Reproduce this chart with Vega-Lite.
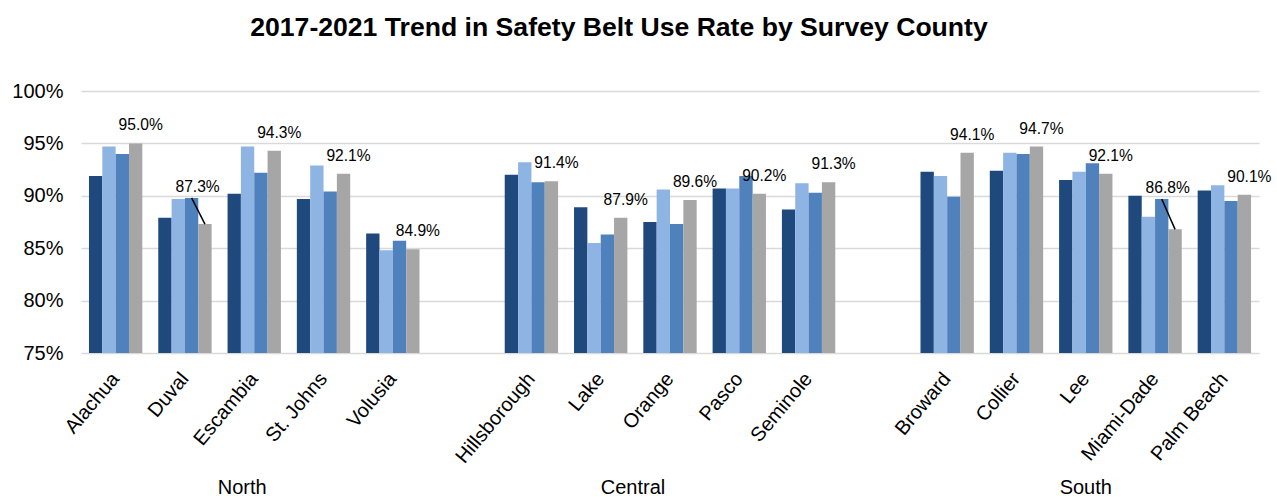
{
  "$schema": "https://vega.github.io/schema/vega-lite/v6.json",
  "width": 1178,
  "height": 262,
  "autosize": {"type": "none"},
  "padding": {"left": 81, "top": 91, "right": 18, "bottom": 145},
  "title": {
    "text": "2017-2021 Trend in Safety Belt Use Rate by Survey County",
    "fontSize": 26.6,
    "fontWeight": "bold",
    "font": "Liberation Sans",
    "color": "#000000",
    "anchor": "middle",
    "baseline": "alphabetic",
    "offset": 18,
    "dx": -51
  },
  "config": {
    "font": "Liberation Sans",
    "view": {"stroke": null},
    "axis": {"labelFont": "Liberation Sans", "labelColor": "#000000"}
  },
  "data": {
    "values": [
      {"region": "North", "county": "Alachua", "2017": 0.919, "2018": 0.947, "2019": 0.940, "2021": 0.950},
      {"region": "North", "county": "Duval", "2017": 0.879, "2018": 0.897, "2019": 0.898, "2021": 0.873},
      {"region": "North", "county": "Escambia", "2017": 0.902, "2018": 0.947, "2019": 0.922, "2021": 0.943},
      {"region": "North", "county": "St. Johns", "2017": 0.897, "2018": 0.929, "2019": 0.904, "2021": 0.921},
      {"region": "North", "county": "Volusia", "2017": 0.864, "2018": 0.848, "2019": 0.857, "2021": 0.849},
      {"region": "Central", "county": "Hillsborough", "2017": 0.920, "2018": 0.932, "2019": 0.913, "2021": 0.914},
      {"region": "Central", "county": "Lake", "2017": 0.889, "2018": 0.855, "2019": 0.863, "2021": 0.879},
      {"region": "Central", "county": "Orange", "2017": 0.875, "2018": 0.906, "2019": 0.873, "2021": 0.896},
      {"region": "Central", "county": "Pasco", "2017": 0.907, "2018": 0.907, "2019": 0.919, "2021": 0.902},
      {"region": "Central", "county": "Seminole", "2017": 0.887, "2018": 0.912, "2019": 0.903, "2021": 0.913},
      {"region": "South", "county": "Broward", "2017": 0.923, "2018": 0.919, "2019": 0.899, "2021": 0.941},
      {"region": "South", "county": "Collier", "2017": 0.924, "2018": 0.941, "2019": 0.940, "2021": 0.947},
      {"region": "South", "county": "Lee", "2017": 0.915, "2018": 0.923, "2019": 0.931, "2021": 0.921},
      {"region": "South", "county": "Miami-Dade", "2017": 0.900, "2018": 0.880, "2019": 0.897, "2021": 0.868},
      {"region": "South", "county": "Palm Beach", "2017": 0.905, "2018": 0.910, "2019": 0.895, "2021": 0.901}
    ]
  },
  "layer": [
    {
      "transform": [{"fold": ["2017", "2018", "2019", "2021"], "as": ["year", "rate"]}],
      "mark": {"type": "bar"},
      "encoding": {
        "x": {
          "field": "county",
          "type": "nominal",
          "scale": {
            "domain": ["Alachua", "Duval", "Escambia", "St. Johns", "Volusia", "gap1", "Hillsborough", "Lake", "Orange", "Pasco", "Seminole", "gap2", "Broward", "Collier", "Lee", "Miami-Dade", "Palm Beach"],
            "paddingInner": 0.23,
            "paddingOuter": 0.115
          },
          "axis": {
            "orient": "bottom",
            "title": null,
            "labelAngle": -50,
            "labelFontSize": 20,
            "labelPadding": 22,
            "labelOverlap": false,
            "labelExpr": "indexof(datum.value, 'gap') === 0 ? '' : datum.value",
            "ticks": false,
            "domain": false,
            "grid": false
          }
        },
        "xOffset": {
          "field": "year",
          "type": "nominal",
          "scale": {"domain": ["2017", "2018", "2019", "2021"], "paddingInner": 0, "paddingOuter": 0}
        },
        "y": {
          "field": "rate",
          "type": "quantitative",
          "scale": {"domain": [0.75, 1.0], "nice": false, "zero": false, "clamp": true},
          "axis": {
            "title": null,
            "values": [0.75, 0.8, 0.85, 0.9, 0.95, 1.0],
            "format": ".0%",
            "labelFontSize": 20,
            "labelPadding": 18,
            "ticks": false,
            "domain": false,
            "gridColor": "#D9D9D9",
            "gridWidth": 1.5
          }
        },
        "color": {
          "field": "year",
          "type": "nominal",
          "scale": {"domain": ["2017", "2018", "2019", "2021"], "range": ["#1F497D", "#8EB4E3", "#4F81BD", "#A6A6A6"]},
          "legend": null
        }
      }
    },
    {
      "transform": [
        {"fold": ["2021"], "as": ["year", "rate"]},
        {"filter": "datum.county !== 'Duval' && datum.county !== 'Miami-Dade'"}
      ],
      "mark": {"type": "text", "fontSize": 15.6, "color": "#000000", "baseline": "middle", "dx": 5, "dy": -18},
      "encoding": {
        "x": {
          "field": "county",
          "type": "nominal",
          "scale": {
            "domain": ["Alachua", "Duval", "Escambia", "St. Johns", "Volusia", "gap1", "Hillsborough", "Lake", "Orange", "Pasco", "Seminole", "gap2", "Broward", "Collier", "Lee", "Miami-Dade", "Palm Beach"],
            "paddingInner": 0.23,
            "paddingOuter": 0.115
          },
          "axis": {
            "orient": "bottom",
            "title": null,
            "offset": 120,
            "labelAngle": 0,
            "labelAlign": "center",
            "labelBaseline": "top",
            "labelFontSize": 20,
            "labelPadding": 4,
            "labelOverlap": false,
            "labelExpr": "datum.value === 'Escambia' ? 'North' : datum.value === 'Orange' ? 'Central' : datum.value === 'Lee' ? 'South' : ''",
            "labelOffset": {"condition": [{"test": "datum.value === 'Escambia'", "value": -12}, {"test": "datum.value === 'Orange'", "value": -37}], "value": 0},
            "ticks": false,
            "domain": false,
            "grid": false
          }
        },
        "xOffset": {
          "field": "year",
          "type": "nominal",
          "scale": {"domain": ["2017", "2018", "2019", "2021"], "paddingInner": 0, "paddingOuter": 0}
        },
        "y": {"field": "rate", "type": "quantitative"},
        "text": {"field": "rate", "type": "quantitative", "format": ".1%"}
      }
    },
    {
      "transform": [
        {"fold": ["2019"], "as": ["year", "rate"]},
        {"filter": "datum.county === 'Duval' || datum.county === 'Miami-Dade'"}
      ],
      "mark": {"type": "text", "fontSize": 15.6, "color": "#000000", "baseline": "middle", "dx": 6, "dy": -11},
      "encoding": {
        "x": {
          "field": "county",
          "type": "nominal",
          "scale": {
            "domain": ["Alachua", "Duval", "Escambia", "St. Johns", "Volusia", "gap1", "Hillsborough", "Lake", "Orange", "Pasco", "Seminole", "gap2", "Broward", "Collier", "Lee", "Miami-Dade", "Palm Beach"],
            "paddingInner": 0.23,
            "paddingOuter": 0.115
          },
          "axis": null
        },
        "xOffset": {
          "field": "year",
          "type": "nominal",
          "scale": {"domain": ["2017", "2018", "2019", "2021"], "paddingInner": 0, "paddingOuter": 0}
        },
        "y": {"field": "rate", "type": "quantitative"},
        "text": {"field": "2021", "type": "quantitative", "format": ".1%"}
      }
    },
    {
      "transform": [
        {"fold": ["2019", "2021"], "as": ["year", "rate"]},
        {"filter": "datum.county === 'Duval' || datum.county === 'Miami-Dade'"}
      ],
      "mark": {"type": "line", "color": "#000000", "strokeWidth": 1.5},
      "encoding": {
        "x": {
          "field": "county",
          "type": "nominal",
          "scale": {
            "domain": ["Alachua", "Duval", "Escambia", "St. Johns", "Volusia", "gap1", "Hillsborough", "Lake", "Orange", "Pasco", "Seminole", "gap2", "Broward", "Collier", "Lee", "Miami-Dade", "Palm Beach"],
            "paddingInner": 0.23,
            "paddingOuter": 0.115
          },
          "axis": null
        },
        "xOffset": {
          "field": "year",
          "type": "nominal",
          "scale": {"domain": ["2017", "2018", "2019", "2021"], "paddingInner": 0, "paddingOuter": 0}
        },
        "y": {"field": "rate", "type": "quantitative"},
        "detail": {"field": "county", "type": "nominal"},
        "order": {"field": "year", "type": "nominal"}
      }
    }
  ],
  "resolve": {"axis": {"x": "independent"}}
}
